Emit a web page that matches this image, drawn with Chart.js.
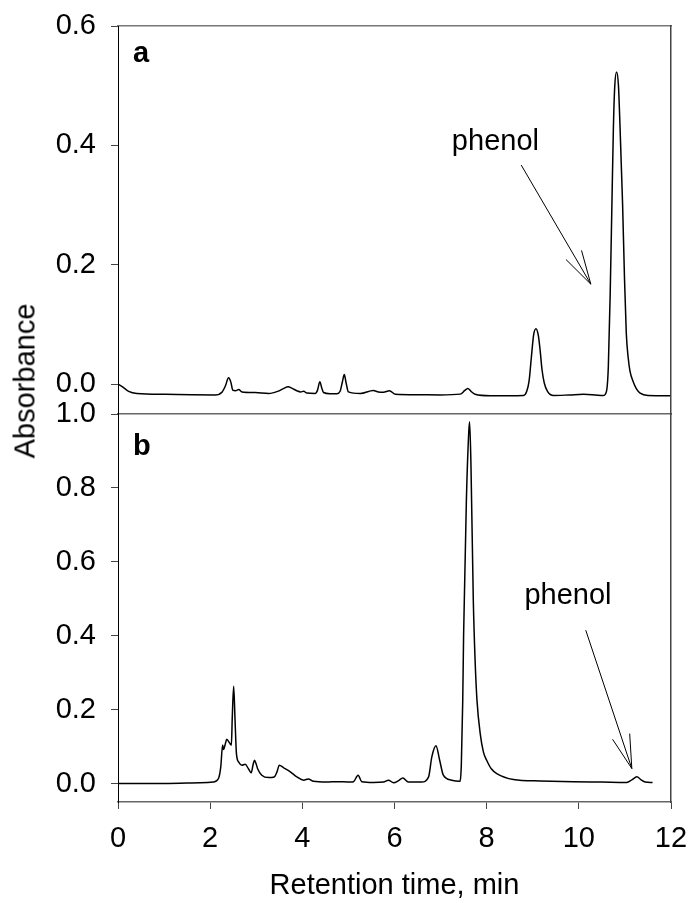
<!DOCTYPE html>
<html>
<head>
<meta charset="utf-8">
<script src="https://cdn.jsdelivr.net/npm/chart.js@4.4.1/dist/chart.umd.min.js"></script>
<style>
  body { margin: 0; background: #fff; }
  #wrap { position: relative; width: 689px; height: 903px; }
  canvas { position: absolute; left: 0; top: 0; }
  #ylab {
    position: absolute; left: 25px; top: 381px;
    transform: translate(-50%, -50%) rotate(-90deg);
    font: 29px "Liberation Sans", Arial, sans-serif;
    line-height: 1; white-space: nowrap; color: #000;
  }
</style>
</head>
<body>
<div id="wrap">
  <canvas id="chartA" width="689" height="903"></canvas>
  <canvas id="chartB" width="689" height="903"></canvas>
  <div id="ylab">Absorbance</div>
</div>
<script>
const FONT = '"Liberation Sans", Arial, sans-serif';

// panel a: retention time (min) and absorbance
const timeA = [0, 0.09, 0.23, 0.41, 1.03, 1.6, 2.11, 2.26, 2.33, 2.40, 2.45, 2.49, 2.55, 2.62, 2.69,
  2.98, 3.27, 3.48, 3.60, 3.69, 3.78, 3.88, 3.96, 4.03, 4.10, 4.28, 4.33, 4.38, 4.42, 4.46, 4.60,
  4.75, 4.82, 4.87, 4.91, 4.95, 5.00, 5.26, 5.54, 5.65, 5.76, 5.89, 6.02, 6.5, 6.99, 7.43, 7.52,
  7.59, 7.66, 7.75, 8.08, 8.80, 8.87, 8.92, 8.97, 9.02, 9.07, 9.12, 9.16, 9.20, 9.25, 9.32, 9.45,
  9.8, 10.1, 10.35, 10.53, 10.60, 10.64, 10.68, 10.72, 10.75, 10.78, 10.82, 10.86, 10.89, 10.92,
  10.95, 10.99, 11.03, 11.07, 11.11, 11.18, 11.25, 11.33, 11.5, 11.98];
const absA = [0, -0.004, -0.012, -0.0156, -0.017, -0.0178, -0.018, -0.013, -0.003, 0.0106, 0.003, -0.010, -0.011, -0.009, -0.013,
  -0.014, -0.0156, -0.0117, -0.007, -0.0045, -0.007, -0.011, -0.013, -0.012, -0.015, -0.0156, -0.010, 0.004, -0.006, -0.014, -0.016,
  -0.016, -0.012, 0.004, 0.016, 0.002, -0.013, -0.0156, -0.0106, -0.013, -0.0134, -0.011, -0.017, -0.0178, -0.018, -0.0167, -0.011,
  -0.0073, -0.012, -0.017, -0.0195, -0.019, -0.012, 0.005, 0.045, 0.083, 0.093, 0.082, 0.057, 0.025, 0.002, -0.012, -0.019,
  -0.018, -0.017, -0.018, -0.019, -0.012, 0.029, 0.15, 0.31, 0.43, 0.50, 0.523, 0.50, 0.44, 0.37,
  0.30, 0.18, 0.085, 0.045, 0.022, 0.004, -0.008, -0.015, -0.019, -0.0195];

// panel b
const timeB = [0, 1.0, 1.79, 2.07, 2.18, 2.23, 2.27, 2.29, 2.33, 2.36, 2.42, 2.46, 2.48, 2.51, 2.54,
  2.57, 2.62, 2.69, 2.76, 2.83, 2.89, 2.93, 2.96, 3.00, 3.03, 3.12, 3.27, 3.39, 3.45, 3.50, 3.59,
  3.74, 3.88, 4.03, 4.13, 4.24, 4.53, 4.75, 5.04, 5.11, 5.21, 5.29, 5.54, 5.76, 5.87, 5.98, 6.09,
  6.18, 6.30, 6.59, 6.74, 6.81, 6.90, 6.98, 7.06, 7.24, 7.41, 7.45, 7.48, 7.50, 7.56, 7.61, 7.63,
  7.66, 7.71, 7.75, 7.79, 7.86, 7.93, 8.00, 8.10, 8.22, 8.58, 9.16, 9.88, 10.5, 11.04, 11.15, 11.26,
  11.35, 11.44, 11.60];
const absB = [0, 0, 0.002, 0.004, 0.0135, 0.045, 0.104, 0.092, 0.108, 0.12, 0.11, 0.104, 0.18, 0.263, 0.171,
  0.081, 0.058, 0.0495, 0.052, 0.04, 0.029, 0.05, 0.063, 0.052, 0.04, 0.0225, 0.016, 0.0175, 0.0315, 0.0495, 0.043,
  0.0315, 0.018, 0.009, 0.0125, 0.006, 0.004, 0.005, 0.004, 0.005, 0.0225, 0.005, 0.003, 0.004, 0.009, 0.002, 0.008,
  0.015, 0.004, 0.004, 0.018, 0.072, 0.102, 0.063, 0.0225, 0.009, 0.006, 0.05, 0.22, 0.406, 0.767, 0.948, 0.979,
  0.857, 0.496, 0.33, 0.225, 0.135, 0.085, 0.063, 0.04, 0.027, 0.011, 0.007, 0.005, 0.004, 0.003, 0.01, 0.018,
  0.01, 0.004, 0.0027];

const xTicks = [0, 2, 4, 6, 8, 10, 12];
const yTicksA = [0.0, 0.2, 0.4, 0.6];
const yTicksB = [0.0, 0.2, 0.4, 0.6, 0.8, 1.0];

// panel letters, "phenol" labels and arrows (arrow ends in data units)
const notes = {
  id: 'notes',
  afterDatasetsDraw(chart, args, o) {
    const { ctx, chartArea, scales } = chart;
    const px = v => scales.x.getPixelForValue(v);
    const py = v => scales.y.getPixelForValue(v);
    ctx.save();
    ctx.fillStyle = '#000';
    ctx.strokeStyle = '#000';
    ctx.textAlign = 'left';
    ctx.textBaseline = 'alphabetic';
    ctx.font = 'bold 29px ' + FONT;
    ctx.fillText(o.panel, chartArea.left + 15, chartArea.top + o.drop);
    ctx.font = '29px ' + FONT;
    ctx.fillText('phenol', px(o.label[0]), py(o.label[1]));

    const x0 = px(o.from[0]), y0 = py(o.from[1]);
    const x1 = px(o.to[0]), y1 = py(o.to[1]);
    const ang = Math.atan2(y0 - y1, x0 - x1);
    ctx.lineWidth = 1;
    ctx.beginPath();
    ctx.moveTo(x0, y0);
    ctx.lineTo(x1, y1);
    [-0.26, 0.26].forEach(d => {
      ctx.moveTo(x1, y1);
      ctx.lineTo(x1 + 35 * Math.cos(ang + d), y1 + 35 * Math.sin(ang + d));
    });
    ctx.stroke();
    ctx.restore();
  }
};

function frame(position, color) {
  return {
    position: position,
    display: true,
    ticks: { display: false },
    grid: { drawOnChartArea: false, drawTicks: false },
    border: { color: color, width: 1.5 }
  };
}

function makeChart(id, times, values, cfg) {
  const xAxis = {
    type: 'linear',
    min: 0,
    max: 12,
    afterBuildTicks: s => { s.ticks = xTicks.map(v => ({ value: v })); },
    afterFit: s => {
      // keep the plot edges fixed, whatever the tick labels need
      s.paddingLeft = 0;
      s.paddingRight = 0;
      if (cfg.xLabels) s.height = 101;
    },
    border: { color: '#666', width: 1.5 },
    grid: { drawOnChartArea: false, drawTicks: cfg.xLabels, tickLength: 7, tickColor: '#444' },
    ticks: { display: cfg.xLabels, padding: 13, font: { size: 29 }, color: '#000', callback: v => String(v) },
    title: { display: cfg.xLabels, text: 'Retention time, min', font: { size: 29 }, color: '#000', padding: { top: 11, bottom: 0 } }
  };
  const scales = {
    x: xAxis,
    xTop: frame('top', '#777'),
    y: {
      type: 'linear',
      min: cfg.yMin,
      max: cfg.yMax,
      afterBuildTicks: s => { s.ticks = cfg.yTicks.map(v => ({ value: v })); },
      afterFit: s => {
        s.width = 118;
        s.paddingTop = 0;
        s.paddingBottom = 0;
      },
      border: { color: '#000', width: 1 },
      grid: { drawOnChartArea: false, tickLength: 7, tickColor: '#444' },
      ticks: { padding: 15, font: { size: 29 }, color: '#000', callback: v => v.toFixed(1) }
    },
    yRight: frame('right', '#444')
  };
  if (!cfg.top) scales.xTop.display = false;

  return new Chart(document.getElementById(id), {
    type: 'line',
    data: {
      datasets: [{
        data: times.map((t, i) => ({ x: t, y: values[i] })),
        borderColor: '#000',
        borderWidth: 1.5,
        pointRadius: 0,
        cubicInterpolationMode: 'monotone',
        fill: false
      }]
    },
    options: {
      responsive: false,
      animation: false,
      layout: { padding: cfg.padding },
      plugins: {
        legend: { display: false },
        tooltip: { enabled: false },
        notes: cfg.notes
      },
      scales: scales
    },
    plugins: [notes]
  });
}

Chart.defaults.font.family = FONT;
Chart.defaults.color = '#000';

makeChart('chartA', timeA, absA, {
  yMin: -0.05, yMax: 0.6, yTicks: yTicksA, xLabels: false, top: true,
  padding: { left: 0, top: 26, right: 18, bottom: 489 },
  notes: { panel: 'a', drop: 36, label: [7.245, 0.392], from: [8.75, 0.367], to: [10.26, 0.1675] }
});

makeChart('chartB', timeB, absB, {
  yMin: -0.05, yMax: 1.0, yTicks: yTicksB, xLabels: true, top: false,
  padding: { left: 0, top: 414, right: 18, bottom: 0 },
  notes: { panel: 'b', drop: 41, label: [8.82, 0.485], from: [10.15, 0.415], to: [11.15, 0.0405] }
});
</script>
</body>
</html>
